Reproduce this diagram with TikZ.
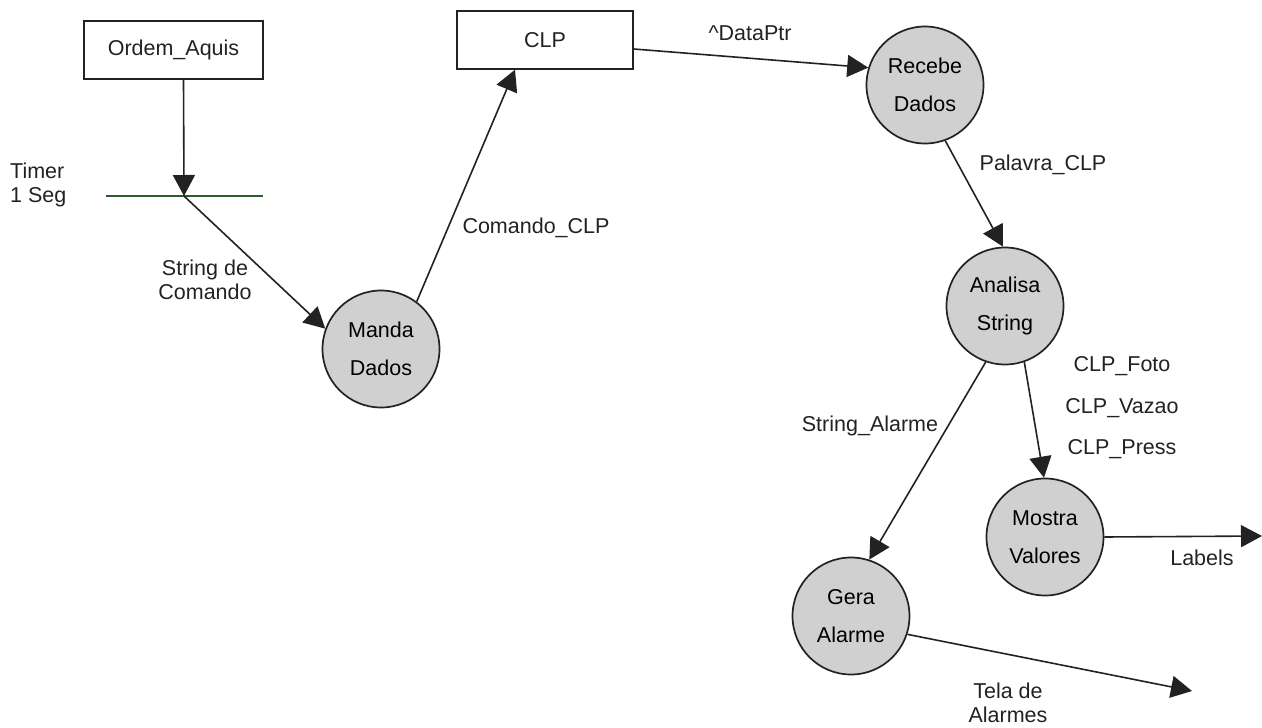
\documentclass[tikz,border=0pt]{standalone}
\usepackage{fontspec}
\setmainfont{Liberation Sans}
\usetikzlibrary{arrows.meta}
\definecolor{inkc}{HTML}{222222}
\definecolor{bubble}{HTML}{D0D0D0}
\definecolor{timerc}{HTML}{2E5A2E}
\tikzset{
  txt/.style={font=\fontsize{21.5}{24}\selectfont, text=inkc, inner sep=0pt, align=center},
  store/.style={draw=inkc, line width=1.4pt, minimum width=179pt, minimum height=58pt, font=\fontsize{21.5}{25}\selectfont, text=inkc, inner sep=0pt},
  proc/.style={circle, draw=inkc, line width=1.7pt, fill=bubble, minimum size=117pt, inner sep=0pt, align=center, font=\fontsize{21.5}{38}\selectfont, text=black},
  flow/.style={draw=inkc, line width=1.6pt, -{Triangle[length=21pt,width=22pt]}},
}
\begin{document}
\begin{tikzpicture}[x=1pt,y=-1pt]
\useasboundingbox (0,0) rectangle (1262,728);
% stores
\node[store] (ordem) at (173.5,50) {Ordem\_Aquis};
\node[store, minimum width=176pt] (clp) at (545,40) {CLP};
% processes
\node[proc] (manda) at (381,349) {Manda\\Dados};
\node[proc] (recebe) at (925,85) {Recebe\\Dados};
\node[proc] (analisa) at (1005,306) {Analisa\\String};
\node[proc] (mostra) at (1045,537) {Mostra\\Valores};
\node[proc] (gera) at (851,616) {Gera\\Alarme};
% timer
\coordinate (tl) at (106,196);
\coordinate (tr) at (263,196);
\coordinate (tm) at (184,196);
\draw[timerc, line width=1.6pt] (tl) -- (tr);
\node[txt, anchor=west, align=left] (timer) at (10,185) {Timer\\1 Seg};
% free ends
\coordinate (labelsend) at (1262,536);
\coordinate (telaend) at (1192,691);
% flows
\draw[flow] ([xshift=10pt]ordem.south) -- (tm);
\draw[flow] (tm) -- (manda.160);
\draw[flow] (manda.53) -- ([xshift=-30pt]clp.south);
\draw[flow] ([yshift=-9pt]clp.east) -- (recebe.163);
\draw[flow] (recebe.290) -- (analisa.92);
\draw[flow] (analisa.251) -- (gera.72);
\draw[flow] (analisa.289) -- (mostra.91);
\draw[flow] (mostra.east) -- (labelsend);
\draw[flow] (gera.342) -- (telaend);
% labels
\node[txt] (l1) at (205,280) {String de\\Comando};
\node[txt] (l2) at (536,228) {Comando\_CLP};
\node[txt] (l3) at (750,33) {\textasciicircum DataPtr};
\node[txt] (l4) at (1043,165) {Palavra\_CLP};
\node[txt] (l5) at (870,426) {String\_Alarme};
\node[txt, font=\fontsize{21.5}{41.5}\selectfont] (l6) at (1122,408) {CLP\_Foto\\CLP\_Vazao\\CLP\_Press};
\node[txt] (l7) at (1202,558) {Labels};
\node[txt] (l8) at (1008,703) {Tela de\\Alarmes};
\end{tikzpicture}
\end{document}
